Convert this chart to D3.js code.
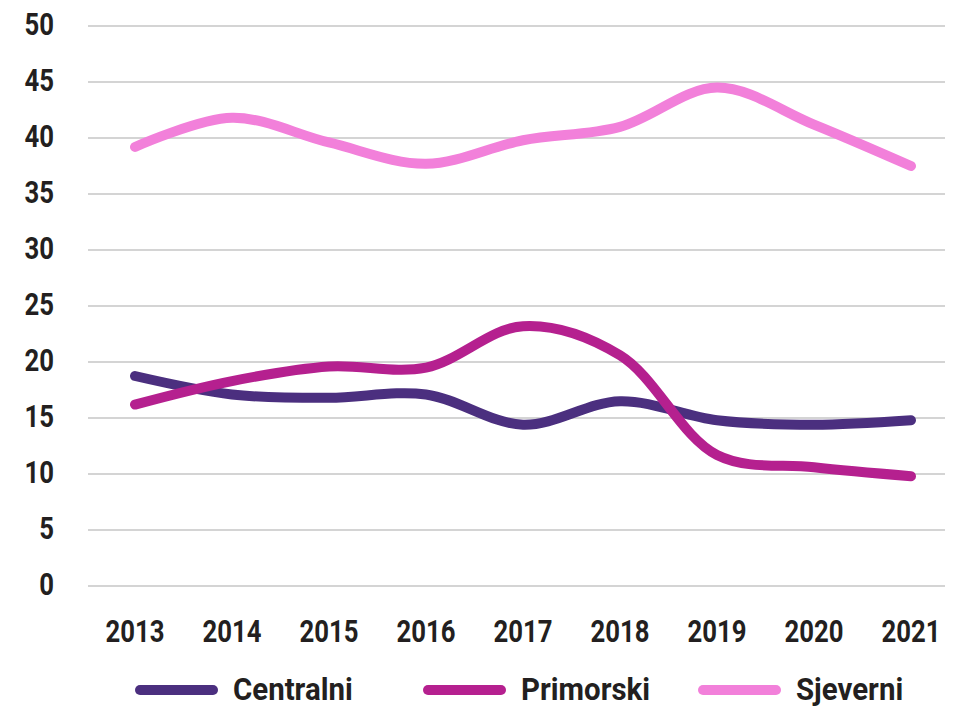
<!DOCTYPE html>
<html><head><meta charset="utf-8">
<script src="https://cdn.jsdelivr.net/npm/d3@7"></script>
<style>
body{margin:0;background:#fff;}
text{font-family:Roboto,"DejaVu Sans",sans-serif;font-weight:bold;fill:#231f20;}
</style></head>
<body><svg id="c" width="957" height="710"></svg>
<script>
const years = ["2013","2014","2015","2016","2017","2018","2019","2020","2021"];
const centralni = [18.75, 17.1, 16.8, 17.1, 14.4, 16.5, 14.8, 14.4, 14.8];
const primorski = [16.2, 18.3, 19.6, 19.5, 23.2, 20.6, 11.7, 10.6, 9.8];
const sjeverni  = [39.2, 41.8, 39.6, 37.7, 39.8, 41.0, 44.5, 41.2, 37.5];
const seriesNames = ["Centralni","Primorski","Sjeverni"];
const seriesColors = ["#4b2f7f","#b5208f","#f280da"];
const yTicks = [0,5,10,15,20,25,30,35,40,45,50];

const svg = d3.select("#c");
const x = d3.scalePoint().domain(years).range([135, 911]);
const y = d3.scaleLinear().domain([0,50]).range([586, 26]);
const gridL = 88, gridR = 945;
const sx = 0.83;

svg.append("g").selectAll("line").data(yTicks).join("line")
  .attr("x1",gridL).attr("x2",gridR)
  .attr("y1",d=>y(d)).attr("y2",d=>y(d))
  .attr("stroke","#c6c6c6").attr("stroke-width",1.4);

svg.append("g").selectAll("text").data(yTicks).join("text")
  .attr("transform",d=>`translate(54,${y(d)+9}) scale(${sx},1)`).attr("text-anchor","end")
  .attr("font-size",31).text(d=>d);

svg.append("g").selectAll("text").data(years).join("text")
  .attr("transform",d=>`translate(${x(d)},642) scale(${sx},1)`).attr("text-anchor","middle")
  .attr("font-size",31).text(d=>d);

const data = [centralni, primorski, sjeverni];
const line = d3.line().x((d,i)=>x(years[i])).y(d=>y(d)).curve(d3.curveCatmullRom.alpha(0.5));
[0,1,2].forEach(i=>{
  svg.append("path").attr("d",line(data[i])).attr("fill","none")
    .attr("stroke",seriesColors[i]).attr("stroke-width",10)
    .attr("stroke-linecap","round").attr("stroke-linejoin","round");
});

const legX = [140, 428, 703];
seriesNames.forEach((n,i)=>{
  svg.append("line").attr("x1",legX[i]).attr("x2",legX[i]+73)
    .attr("y1",690).attr("y2",690).attr("stroke",seriesColors[i])
    .attr("stroke-width",10).attr("stroke-linecap","round");
  svg.append("text").attr("transform",`translate(${legX[i]+93},700) scale(0.95,1)`).attr("font-size",31).text(n);
});
</script></body></html>
